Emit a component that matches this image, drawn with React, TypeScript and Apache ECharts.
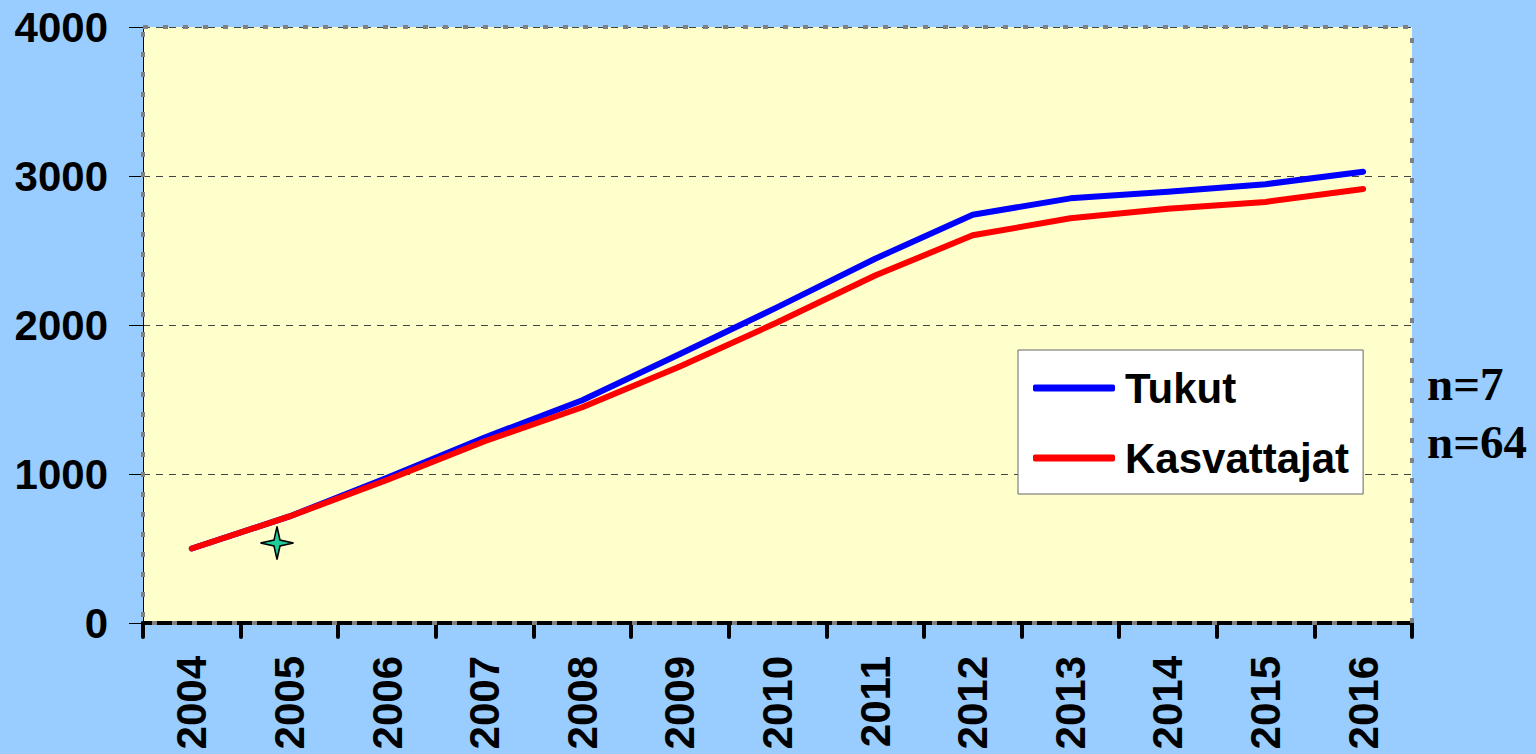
import React, { useEffect, useRef } from "react";
import * as echarts from "echarts";

const years = ["2004", "2005", "2006", "2007", "2008", "2009", "2010", "2011", "2012", "2013", "2014", "2015", "2016"];
const tukut = [500, 715, 975, 1245, 1495, 1805, 2120, 2445, 2740, 2850, 2895, 2945, 3028];
const kasvattajat = [500, 715, 960, 1220, 1448, 1722, 2018, 2332, 2602, 2716, 2780, 2826, 2913];
const yTicks = [0, 1000, 2000, 3000, 4000];
const sideNotes = ["n=7", "n=64"];

const SANS = "Arial, 'Liberation Sans', sans-serif";
const SERIF = "'Times New Roman', 'Liberation Serif', serif";

export default function App() {
  const ref = useRef<HTMLDivElement>(null);
  useEffect(() => {
    if (!ref.current) return;
    const chart = echarts.init(ref.current, null, { renderer: "svg" });
    const R = 16.5, r = 3;
    const starPts = [[0, -R], [r, -r], [R, 0], [r, r], [0, R], [-r, r], [-R, 0], [-r, -r]];
    chart.setOption({
      animation: false,
      backgroundColor: "#99CCFF",
      grid: {
        left: 143, top: 27, right: 124, bottom: 131,
        show: true, backgroundColor: "#FFFFCC", borderWidth: 0,
      },
      legend: {
        orient: "vertical",
        left: 1018, top: 350,
        padding: [15, 14, 13, 15],
        backgroundColor: "#FFFFFF",
        borderColor: "#666666", borderWidth: 1,
        icon: "roundRect",
        itemWidth: 82, itemHeight: 7, itemGap: 24,
        textStyle: { fontFamily: SANS, fontWeight: "bold", fontSize: 42, color: "#000", lineHeight: 46, padding: [0, 0, 0, 5] },
        data: ["Tukut", "Kasvattajat"],
      },
      xAxis: {
        type: "category",
        data: years,
        boundaryGap: true,
        axisLine: { lineStyle: { color: "#000", width: 4 } },
        axisTick: { show: true, length: 14, lineStyle: { color: "#000", width: 4, cap: "round" } },
        axisLabel: { rotate: 90, margin: 33, interval: 0, fontFamily: SANS, fontWeight: "bold", fontSize: 42, color: "#000" },
        splitLine: { show: false },
      },
      yAxis: {
        type: "value",
        min: yTicks[0], max: yTicks[yTicks.length - 1], interval: 1000,
        axisLine: { show: true, lineStyle: { color: "#000", width: 1 } },
        axisTick: { show: true, length: 14, lineStyle: { color: "#000", width: 1 } },
        axisLabel: {
          margin: 35, fontFamily: SANS, fontWeight: "bold", fontSize: 42, color: "#000",
          formatter: (v: number) => String(v),
        },
        splitLine: { show: true, lineStyle: { color: "#444", width: 1, type: [7, 6] } },
      },
      graphic: [
        {
          type: "rect", z: 1, silent: true,
          shape: { x: 143, y: 27, width: 1269, height: 596 },
          style: { fill: "none", stroke: "#808080", lineWidth: 4, lineDash: [5, 15] },
        },
        {
          type: "polygon", z: 5, x: 277, y: 543,
          shape: { points: starPts },
          style: { fill: "#22CC99", stroke: "#000", lineWidth: 1.5 },
        },
        {
          type: "text", x: 1427, y: 384,
          style: { text: sideNotes[0], font: `bold 47px ${SERIF}`, fill: "#000", verticalAlign: "middle" },
        },
        {
          type: "text", x: 1427, y: 442,
          style: { text: sideNotes[1], font: `bold 47px ${SERIF}`, fill: "#000", verticalAlign: "middle" },
        },
      ],
      series: [
        {
          name: "Tukut", type: "line", data: tukut, symbol: "none", z: 3,
          lineStyle: { color: "#0000FF", width: 6, cap: "round", join: "round" },
          itemStyle: { color: "#0000FF" },
        },
        {
          name: "Kasvattajat", type: "line", data: kasvattajat, symbol: "none", z: 4,
          lineStyle: { color: "#FF0000", width: 6, cap: "round", join: "round" },
          itemStyle: { color: "#FF0000" },
        },
      ],
    });
    return () => chart.dispose();
  }, []);
  return <div ref={ref} style={{ position: "fixed", left: 0, top: 0, width: 1536, height: 754 }} />;
}
